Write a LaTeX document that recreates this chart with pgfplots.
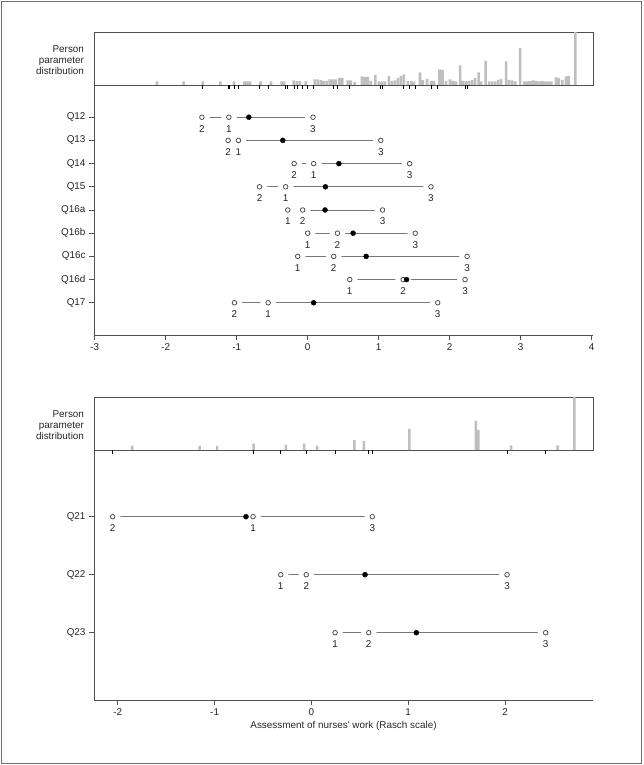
\documentclass[border=0pt]{standalone}
\usepackage{pgfplots}
\pgfplotsset{compat=1.18}
\usepackage{pgfplotstable}
\usepackage{fontspec}
\setmainfont{Liberation Sans}
\definecolor{histgray}{HTML}{BEBEBE}
\definecolor{linegray}{HTML}{787878}
\definecolor{axisgray}{HTML}{505050}
\definecolor{circgray}{HTML}{505050}
\definecolor{framegray}{HTML}{707070}

% ---------- top panel data ----------
\pgfplotstableread{
x h
-2.123 3.5
-1.747 3.5
-1.476 3.5
-1.229 3.5
-1.038 3.5
-0.890 3.5
-0.847 3.5
-0.812 3.5
-0.664 3.5
-0.516 3.5
-0.367 3.5
-0.332 3.5
-0.198 4.5
-0.155 4
-0.113 4
-0.028 3.5
0.099 5.5
0.141 5.5
0.184 5
0.226 4
0.268 4
0.311 5.5
0.353 5.5
0.395 5.5
0.445 7
0.487 7
0.565 4.5
0.607 4.5
0.664 3
0.763 8.5
0.805 8
0.847 8
0.890 4
0.953 10
1.003 3.5
1.045 3.5
1.088 3.5
1.144 9
1.186 4
1.229 4.5
1.271 7
1.314 9
1.356 10.5
1.412 4
1.462 4
1.497 3
1.582 12.5
1.624 5
1.681 6
1.737 4
1.780 4
1.857 15.5
1.900 15
1.949 4
2.006 5.5
2.048 4
2.090 3.5
2.147 19.5
2.189 4
2.232 4
2.274 4
2.316 5
2.359 7
2.408 12.5
2.444 3.5
2.507 24
2.556 3.5
2.599 3.5
2.641 3.5
2.684 5
2.726 6
2.797 23.5
2.839 5
2.881 4.5
2.924 3.5
2.994 37
3.051 3.5
3.093 3.5
3.136 4
3.178 4.5
3.220 4
3.263 3.5
3.305 4
3.347 3.5
3.390 3.5
3.432 3.5
3.496 7.5
3.538 7
3.588 5
3.637 8.5
3.679 9
3.771 53
}\tophist

\pgfplotstableread{
x y lab
-1.49 9 2
-1.11 9 1
0.075 9 3
-1.12 8 2
-0.975 8 1
1.03 8 3
-0.19 7 2
0.085 7 1
1.436 7 3
-0.678 6 2
-0.31 6 1
1.737 6 3
-0.28 5 1
-0.07 5 2
1.055 5 3
0.0 4 1
0.42 4 2
1.516 4 3
-0.14 3 1
0.367 3 2
2.246 3 3
0.593 2 1
1.346 2 2
2.217 2 3
-1.031 1 2
-0.556 1 1
1.832 1 3
}\topopen

\pgfplotstableread{
x y
-0.829 9
-0.35 8
0.44 7
0.25 6
0.245 5
0.64 4
0.824 3
1.394 2
0.085 1
}\topfilled

% ---------- bottom panel data ----------
\pgfplotstableread{
x h
-1.853 4.3
-1.154 4
-0.975 4
-0.596 6.3
-0.265 5.3
-0.076 6.3
0.058 4.3
0.443 10
0.543 9
1.011 21
1.700 29.3
1.726 20
2.062 4.7
2.544 4.7
2.716 53
}\bothist

\pgfplotstableread{
x y lab
-2.053 3 2
-0.603 3 1
0.629 3 3
-0.317 2 1
-0.053 2 2
2.021 2 3
0.244 1 1
0.592 1 2
2.42 1 3
}\botopen

\pgfplotstableread{
x y
-0.676 3
0.554 2
1.084 1
}\botfilled

\pgfplotsset{
  histax/.style={scale only axis, width=499pt, height=53pt, ymin=0, ymax=53,
    xtick=\empty, ytick=\empty, axis line style={axisgray, line width=0.8pt}, clip=false},
  mainax/.style={scale only axis, width=499pt, height=250pt,
    axis x line*=bottom, axis y line*=left,
    axis line style={axisgray, line width=0.8pt, -},
    tick align=outside, major tick length=5pt,
    every tick/.style={axisgray, line width=0.8pt},
    /pgf/number format/assume math mode=true,
    ticklabel style={font=\fontsize{9.9}{11}\selectfont, text=black!85},
  },
  rowline/.style={linegray, line width=0.9pt, forget plot},
  bars/.style={ybar, bar width=2.6pt, fill=histgray, draw=none},
  rug/.style={ycomb, black, line width=0.7pt},
  halo/.style={only marks, white, mark=*, mark size=7.5pt, mark options={fill=white, draw=white}},
  opencirc/.style={only marks, mark=*, mark size=2.3pt, mark options={fill=white, draw=circgray, line width=0.8pt}},
  filledcirc/.style={only marks, mark=*, mark size=2.5pt, mark options={fill=black, draw=black}},
  labs/.style={draw=none, mark=none, nodes near coords, point meta=explicit symbolic,
    every node near coord/.append style={anchor=center, yshift=-11.5pt, inner sep=0pt,
      font=\fontsize{9.9}{11}\selectfont, text=black!85}},
}

\begin{document}
\begin{tikzpicture}[x=1pt, y=1pt, font=\fontsize{9.9}{11}\selectfont]
\useasboundingbox (0,0) rectangle (644,765);
\draw[framegray, line width=1pt] (1.5,1) rectangle (641.5,763.5);

% ===== top histogram =====
\begin{axis}[histax, at={(94pt,680pt)}, anchor=south west, xmin=-3.01, xmax=4.02]
\addplot[bars] table[x=x, y=h] {\tophist};
\addplot[rug] table[x=x, y expr=-4] {\topopen};
\end{axis}
\node[anchor=east, align=right, text=black!85] at (87.5,704.7) {Person\\parameter\\distribution};

% ===== top main =====
\begin{axis}[mainax, at={(94pt,430pt)}, anchor=south west,
  xmin=-3.01, xmax=4.02, ymin=-0.39, ymax=10.39,
  xtick={-3,-2,-1,0,1,2,3,4},
  ytick={1,2,3,4,5,6,7,8,9},
  yticklabels={Q17,Q16d,Q16c,Q16b,Q16a,Q15,Q14,Q13,Q12}]
\addplot[rowline] coordinates {(-1.49,9) (0.075,9)};
\addplot[rowline] coordinates {(-1.12,8) (1.03,8)};
\addplot[rowline] coordinates {(-0.19,7) (1.436,7)};
\addplot[rowline] coordinates {(-0.678,6) (1.737,6)};
\addplot[rowline] coordinates {(-0.28,5) (1.055,5)};
\addplot[rowline] coordinates {(0.0,4) (1.516,4)};
\addplot[rowline] coordinates {(-0.14,3) (2.246,3)};
\addplot[rowline] coordinates {(0.593,2) (2.217,2)};
\addplot[rowline] coordinates {(-1.031,1) (1.832,1)};
\addplot[halo] table[x=x, y=y] {\topopen};
\addplot[opencirc] table[x=x, y=y] {\topopen};
\addplot[filledcirc] table[x=x, y=y] {\topfilled};
\addplot[labs] table[x=x, y=y, meta=lab] {\topopen};
\end{axis}

% ===== bottom histogram =====
\begin{axis}[histax, at={(94pt,315pt)}, anchor=south west, xmin=-2.246, xmax=2.909]
\addplot[bars, bar width=2.5pt] table[x=x, y=h] {\bothist};
\addplot[rug] table[x=x, y expr=-4] {\botopen};
\end{axis}
\node[anchor=east, align=right, text=black!85] at (87.5,340) {Person\\parameter\\distribution};

% ===== bottom main =====
\begin{axis}[mainax, at={(94pt,65pt)}, anchor=south west,
  xmin=-2.246, xmax=2.909, ymin=-0.16, ymax=4.15,
  xtick={-2,-1,0,1,2},
  ytick={1,2,3},
  yticklabels={Q23,Q22,Q21}]
\addplot[rowline] coordinates {(-2.053,3) (0.629,3)};
\addplot[rowline] coordinates {(-0.317,2) (2.021,2)};
\addplot[rowline] coordinates {(0.244,1) (2.42,1)};
\addplot[halo] table[x=x, y=y] {\botopen};
\addplot[opencirc] table[x=x, y=y] {\botopen};
\addplot[filledcirc] table[x=x, y=y] {\botfilled};
\addplot[labs] table[x=x, y=y, meta=lab] {\botopen};
\end{axis}
\node[text=black!85] at (343.5,39) {Assessment of nurses\textquotesingle\ work (Rasch scale)};
\end{tikzpicture}
\end{document}
